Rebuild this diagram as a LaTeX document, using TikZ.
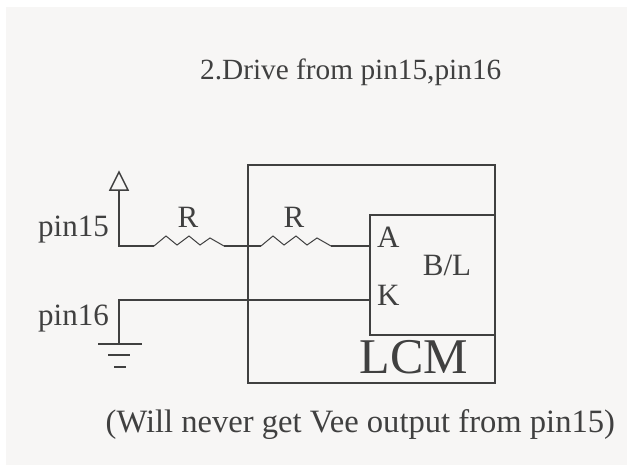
\documentclass[tikz,border=0pt]{standalone}
\usepackage{fontspec}
\usepackage{xcolor}
\setmainfont{Liberation Serif}
\usetikzlibrary{arrows.meta}
\usetikzlibrary{positioning}
\definecolor{wirecol}{HTML}{404040}
\definecolor{paper}{HTML}{F7F6F5}
\tikzset{
	wire/.style={draw=wirecol,line width=1.5pt,line join=miter},
	lbl/.style={text=wirecol,font=\fontsize{31}{34}\selectfont,inner sep=0pt},
	biglbl/.style={text=wirecol,font=\fontsize{50}{54}\selectfont,inner sep=0pt},
	box/.style={draw=wirecol,line width=1.5pt,inner sep=0pt,anchor=north west},
	zigres/.pic={
		\draw[draw=wirecol,line width=1pt] (0,0) coordinate (-in) -- (12,-10) -- (23,-1) -- (35,-10) -- (46,-1) -- (56,-8) -- (70,0) coordinate (-out);
	},
}
\begin{document}
\begin{tikzpicture}[x=1pt,y=-1pt]
	\useasboundingbox (0,0) rectangle (627,466);
	\fill[white] (0,0) rectangle (627,466);
	\fill[paper] (6,7) rectangle (627,465);
	\node[lbl,font=\fontsize{29.3}{32}\selectfont,anchor=base west] (title) at (200,79) {2.Drive from pin15,pin16};
	\node[lbl,font=\fontsize{32.6}{35}\selectfont,anchor=base west] (note) at (105.5,432) {(Will never get Vee output from pin15)};
	\node[box,minimum width=247pt,minimum height=218pt] (lcm) at (247,164) {};
	\node[box,minimum width=125pt,minimum height=120pt] (bl) at (369,214) {};
	\node[biglbl,anchor=base east] (lcmtxt) at (468,373) {LCM};
	\node[lbl,anchor=base] (bltxt) at (447,275) {B/L};
	\node[lbl,anchor=base west] (a) at (377,247) {A};
	\node[lbl,anchor=base west] (k) at (377,305) {K};
	\node[lbl,anchor=base east] (p15) at (109,236) {pin15};
	\node[lbl,anchor=base east] (p16) at (109,325) {pin16};
	% supply
	\coordinate (vcc) at (119,190);
	\coordinate (bend) at (119,246);
	\coordinate (ain) at (bl.west|-bend);
	\coordinate (kin) at (bl.west|-0,300);
	\coordinate (gnd) at (119,344);
	\draw[wire] (vcc) -- ++(-9,0) -- ++(9,-18) -- ++(9,18) -- cycle;
	\pic (ra) at (154,246) {zigres};
	\pic (rb) at (261,246) {zigres};
	\node[lbl,anchor=base] (ratxt) at (188,227) {R};
	\node[lbl,anchor=base] (rbtxt) at (294,227) {R};
	\draw[wire] (vcc) -- (bend) -- (ra-in);
	\draw[wire] (ra-out) -- (rb-in);
	\draw[wire] (rb-out) -- (ain);
	\draw[wire] (kin) -- (119,300) -- (gnd);
	% ground
	\draw[wire] ([xshift=-21pt]gnd) -- ([xshift=23pt]gnd);
	\draw[wire] ([xshift=-11pt,yshift=-11pt]gnd) -- ([xshift=11pt,yshift=-11pt]gnd);
	\draw[wire] ([xshift=-5pt,yshift=-23pt]gnd) -- ([xshift=7pt,yshift=-23pt]gnd);
\end{tikzpicture}
\end{document}
